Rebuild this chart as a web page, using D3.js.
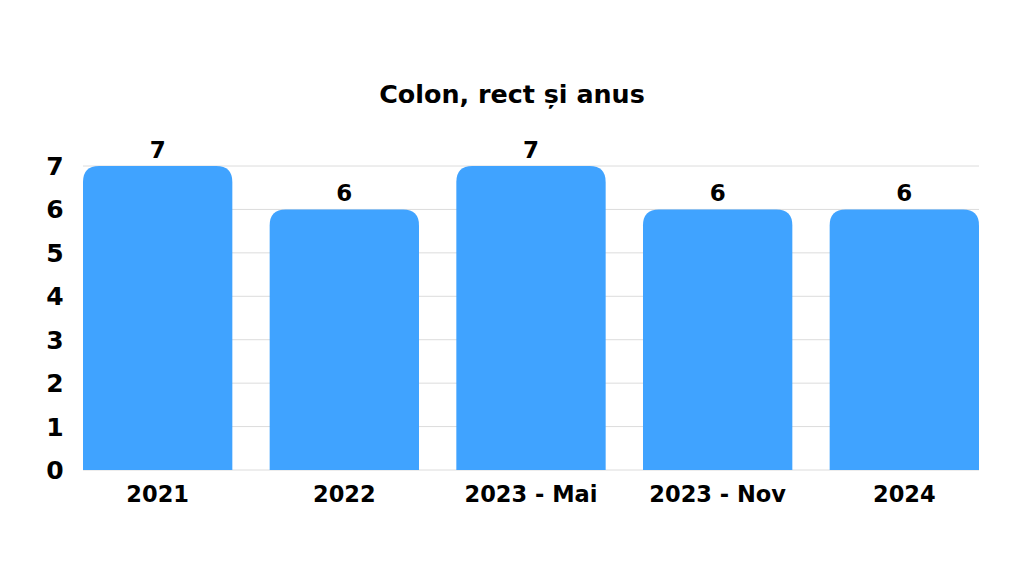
<!DOCTYPE html>
<html><head><meta charset="utf-8">
<script src="https://cdn.jsdelivr.net/npm/d3@7"></script>
<style>body{margin:0;background:#fff;}svg{display:block;}</style>
</head><body>
<svg id="c" width="1024" height="576"></svg>
<script>
const title = "Colon, rect și anus";
const categories = ["2021", "2022", "2023 - Mai", "2023 - Nov", "2024"];
const values = [7, 6, 7, 6, 6];
const yTicks = [0, 1, 2, 3, 4, 5, 6, 7];

const W = 1024, H = 576;
const m = {left: 83, right: 45, top: 166, bottom: 106};
const svg = d3.select("#c");
const font = "'DejaVu Sans', sans-serif";

const x = d3.scaleBand().domain(categories).range([m.left, W - m.right]).paddingInner(0.2).paddingOuter(0);
const y = d3.scaleLinear().domain([0, 7]).range([H - m.bottom, m.top]);

// gridlines
svg.append("g").selectAll("line").data(yTicks).join("line")
  .attr("x1", m.left).attr("x2", W - m.right)
  .attr("y1", d => y(d)).attr("y2", d => y(d))
  .attr("stroke", "#dcdcdc").attr("stroke-width", 1);

// y labels
svg.append("g").selectAll("text").data(yTicks).join("text")
  .attr("x", 55).attr("y", d => y(d)).attr("dy", "0.36em")
  .attr("text-anchor", "middle")
  .attr("font-family", font).attr("font-weight", "bold").attr("font-size", 25)
  .attr("fill", "#000").text(d => d);

// bars with rounded top
const r = 16;
function barPath(d, i) {
  const x0 = x(categories[i]), w = x.bandwidth();
  const yt = y(d), yb = y(0);
  return `M${x0},${yb} L${x0},${yt + r} Q${x0},${yt} ${x0 + r},${yt} L${x0 + w - r},${yt} Q${x0 + w},${yt} ${x0 + w},${yt + r} L${x0 + w},${yb} Z`;
}
svg.append("g").selectAll("path").data(values).join("path")
  .attr("d", barPath).attr("fill", "#40a3ff");

// value labels
svg.append("g").selectAll("text").data(values).join("text")
  .attr("x", (d, i) => x(categories[i]) + x.bandwidth() / 2)
  .attr("y", d => y(d) - 8)
  .attr("text-anchor", "middle")
  .attr("font-family", font).attr("font-weight", "bold").attr("font-size", 23)
  .attr("fill", "#000").text(d => d);

// x labels
svg.append("g").selectAll("text").data(categories).join("text")
  .attr("x", d => x(d) + x.bandwidth() / 2)
  .attr("y", 502)
  .attr("text-anchor", "middle")
  .attr("font-family", font).attr("font-weight", "bold").attr("font-size", 22.5)
  .attr("fill", "#000").text(d => d);

// title
svg.append("text").attr("x", 512).attr("y", 103)
  .attr("text-anchor", "middle")
  .attr("font-family", font).attr("font-weight", "bold").attr("font-size", 25.4)
  .attr("fill", "#000").text(title);
</script>
</body></html>
